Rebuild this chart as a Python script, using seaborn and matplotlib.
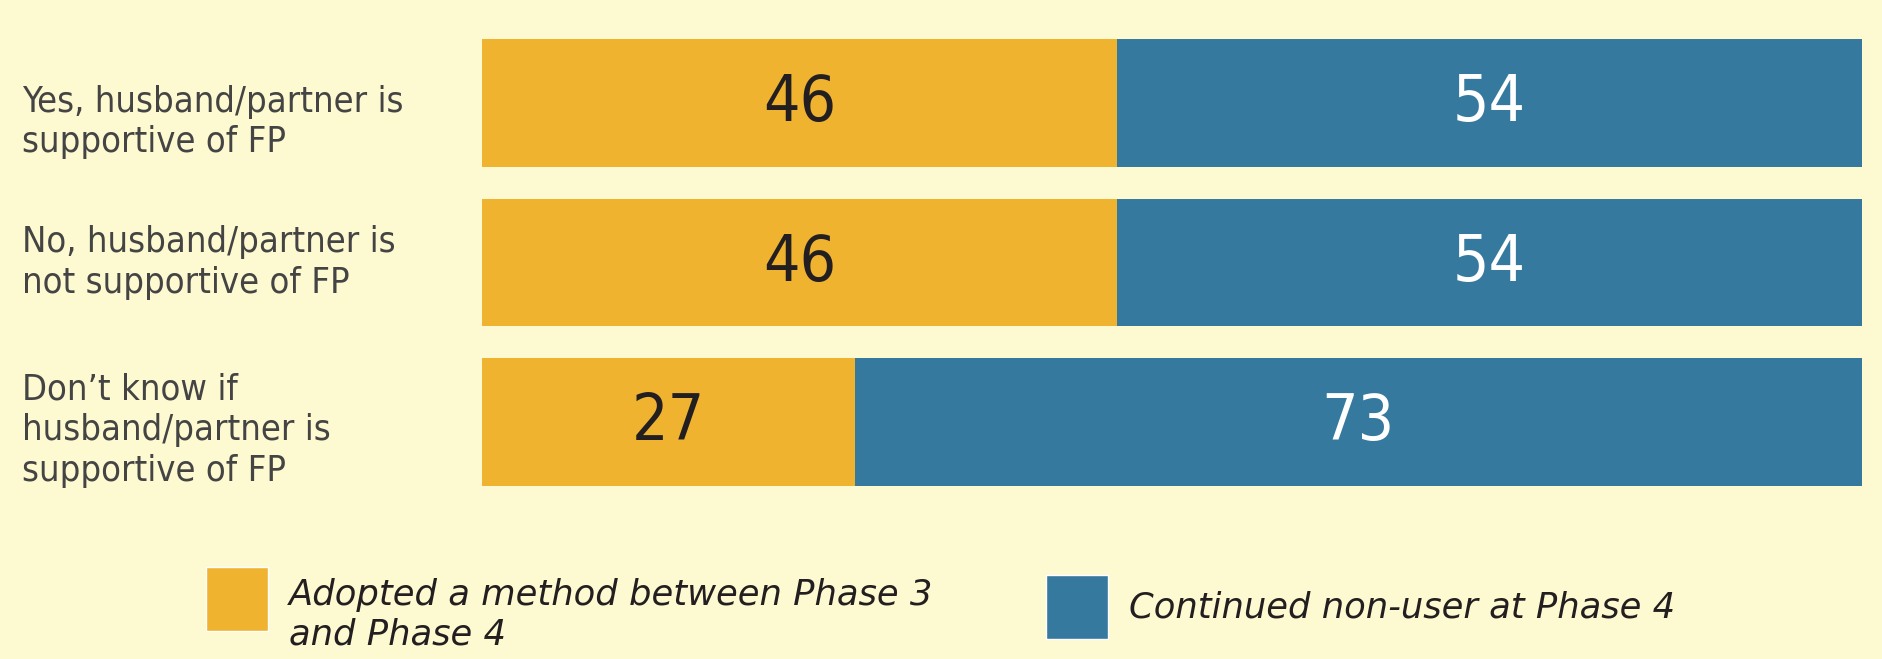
import pandas as pd
import matplotlib.pyplot as plt
import seaborn as sns
from matplotlib.patches import Patch, Rectangle
from matplotlib.legend_handler import HandlerPatch
from matplotlib.transforms import blended_transform_factory

# dane
kategorije = ["Yes, husband/partner is\nsupportive of FP",
              "No, husband/partner is\nnot supportive of FP",
              "Don\u2019t know if\nhusband/partner is\nsupportive of FP"]
usvojili = [46, 46, 27]
nekorisnici = [54, 54, 73]
serije = ["Adopted a method between Phase 3\nand Phase 4",
          "Continued non-user at Phase 4"]

ZUTA = "#EFB32F"
PLAVA = "#36799F"
POZADINA = "#FDF9D0"

sns.set_style("white")
plt.rcParams['font.family'] = ['DejaVu Sans']

df = pd.DataFrame({"kat": kategorije, "usvojili": usvojili, "nekorisnici": nekorisnici})
df["ukupno"] = df["usvojili"] + df["nekorisnici"]

fig = plt.figure(figsize=(18.82, 6.59), dpi=100, facecolor=POZADINA)
ax = fig.add_axes([0.2561, 0.238, 0.7333, 0.727])
ax.set_facecolor(POZADINA)

sns.barplot(data=df, x="ukupno", y="kat", color=PLAVA, saturation=1, width=0.8,
            linewidth=0, ax=ax)
sns.barplot(data=df, x="usvojili", y="kat", color=ZUTA, saturation=1, width=0.8,
            linewidth=0, ax=ax)

ax.set_xlim(0, 100)
ax.set_ylim(2.5, -0.5)
ax.set_xlabel("")
ax.set_ylabel("")
ax.set_xticks([])
ax.set_yticks([])
sns.despine(ax=ax, left=True, bottom=True)

# vrijednosti na trakama
for i, row in df.iterrows():
    ax.text(row["usvojili"] / 2, i, str(row["usvojili"]), ha="center", va="center",
            fontsize=46, color="#231F20", fontstretch="condensed")
    ax.text(row["usvojili"] + row["nekorisnici"] / 2, i, str(row["nekorisnici"]),
            ha="center", va="center", fontsize=46, color="white", fontstretch="condensed")

# oznake kategorija (prva je malo niže u originalu)
pomak = [0.12, 0.0, 0.05]
trans = blended_transform_factory(fig.transFigure, ax.transData)
for i, kat in enumerate(kategorije):
    ax.text(22 / 1882, i + pomak[i], kat, transform=trans, ha="left", va="center",
            fontsize=26, color="#444444", linespacing=1.25, fontstretch="condensed")


# kvadratići legende malo podignuti u odnosu na tekst
def kvadrat(dy):
    def f(legend, orig_handle, xdescent, ydescent, width, height, fontsize):
        return Rectangle((-xdescent, -ydescent + dy), width, height)
    return HandlerPatch(patch_func=f)


# dvije odvojene legende, svaka sa svojom stavkom
postavke = dict(frameon=False, handlelength=1.75, handleheight=2.4, handletextpad=0.6,
                borderpad=0, borderaxespad=0, prop={"size": 25.5, "style": "italic"})
r1 = Patch(facecolor=ZUTA, label=serije[0])
r2 = Patch(facecolor=PLAVA, label=serije[1])
leg1 = fig.legend(handles=[r1], loc="upper left", bbox_to_anchor=(206 / 1882, 1 - 578 / 659),
                  handler_map={r1: kvadrat(13.5)}, **postavke)
leg2 = fig.legend(handles=[r2], loc="center left", bbox_to_anchor=(1046 / 1882, 1 - 607 / 659),
                  handler_map={r2: kvadrat(0)}, **postavke)
for leg in (leg1, leg2):
    for t in leg.get_texts():
        t.set_color("#231F20")

fig.savefig("out.png", dpi=100, facecolor=POZADINA)
